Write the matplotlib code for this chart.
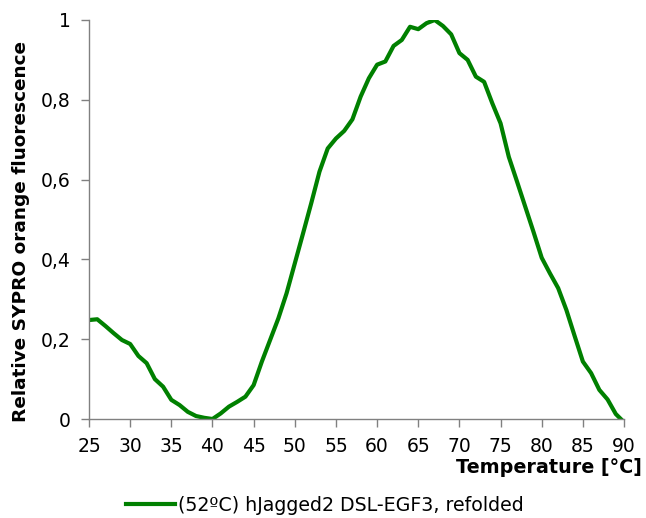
import matplotlib
matplotlib.use("Agg")
import matplotlib.pyplot as plt
from matplotlib.ticker import FuncFormatter, MultipleLocator

# Thermal shift melt curve (1 °C steps)
temperature = [25, 26, 27, 28, 29, 30, 31, 32, 33, 34, 35, 36, 37, 38, 39, 40,
               41, 42, 43, 44, 45, 46, 47, 48, 49, 50, 51, 52, 53, 54, 55, 56,
               57, 58, 59, 60, 61, 62, 63, 64, 65, 66, 67, 68, 69, 70, 71, 72,
               73, 74, 75, 76, 77, 78, 79, 80, 81, 82, 83, 84, 85, 86, 87, 88,
               89, 90]
fluorescence = [0.248, 0.250, 0.233, 0.215, 0.198, 0.188, 0.158, 0.140, 0.100,
                0.081, 0.048, 0.035, 0.018, 0.0075, 0.003, 0.000, 0.014, 0.031,
                0.043, 0.056, 0.085, 0.144, 0.198, 0.252, 0.315, 0.390, 0.465,
                0.541, 0.620, 0.678, 0.703, 0.722, 0.751, 0.808, 0.854, 0.888,
                0.896, 0.935, 0.950, 0.983, 0.977, 0.992, 1.000, 0.985, 0.964,
                0.917, 0.900, 0.858, 0.845, 0.791, 0.741, 0.657, 0.595, 0.532,
                0.469, 0.404, 0.365, 0.328, 0.273, 0.208, 0.144, 0.115, 0.073,
                0.049, 0.0125, -0.008]
series_label = "(52ºC) hJagged2 DSL-EGF3, refolded"
x_label = "Temperature [°C]"
y_label = "Relative SYPRO orange fluorescence"

plt.rcParams["font.family"] = ["DejaVu Sans"]

fig = plt.figure(figsize=(6.46, 5.18), dpi=100)
ax = fig.add_axes([0.1378, 0.1911, 0.8282, 0.7703])

line, = ax.plot(temperature, fluorescence, color="#008000", lw=3,
                solid_joinstyle="round", label=series_label)

ax.set_xlim(25, 90)
ax.set_ylim(0, 1)
ax.xaxis.set_major_locator(MultipleLocator(5))
ax.yaxis.set_major_locator(MultipleLocator(0.2))
ax.yaxis.set_major_formatter(
    FuncFormatter(lambda v, _: ("%g" % round(v, 1)).replace(".", ",")))

for side in ("top", "right"):
    ax.spines[side].set_visible(False)
for side in ("left", "bottom"):
    ax.spines[side].set_color("#808080")
    ax.spines[side].set_linewidth(1)

ax.tick_params(axis="both", direction="out", length=6, width=1,
               color="#808080", labelsize=13.5, labelcolor="black")
ax.tick_params(axis="x", pad=7)
ax.tick_params(axis="y", pad=7)

fig.text(0.994, 0.097, x_label, ha="right", va="center",
         fontsize=13.8, fontweight="bold")
fig.text(0.032, 0.554, y_label, ha="center", va="center", rotation=90,
         fontsize=13.3, fontweight="bold")

fig.legend(handles=[line], loc="center", bbox_to_anchor=(0.503, 0.024),
           frameon=False, fontsize=13.7, handlelength=2.6, handletextpad=0.15,
           borderaxespad=0)

fig.savefig("out.png", dpi=100)
